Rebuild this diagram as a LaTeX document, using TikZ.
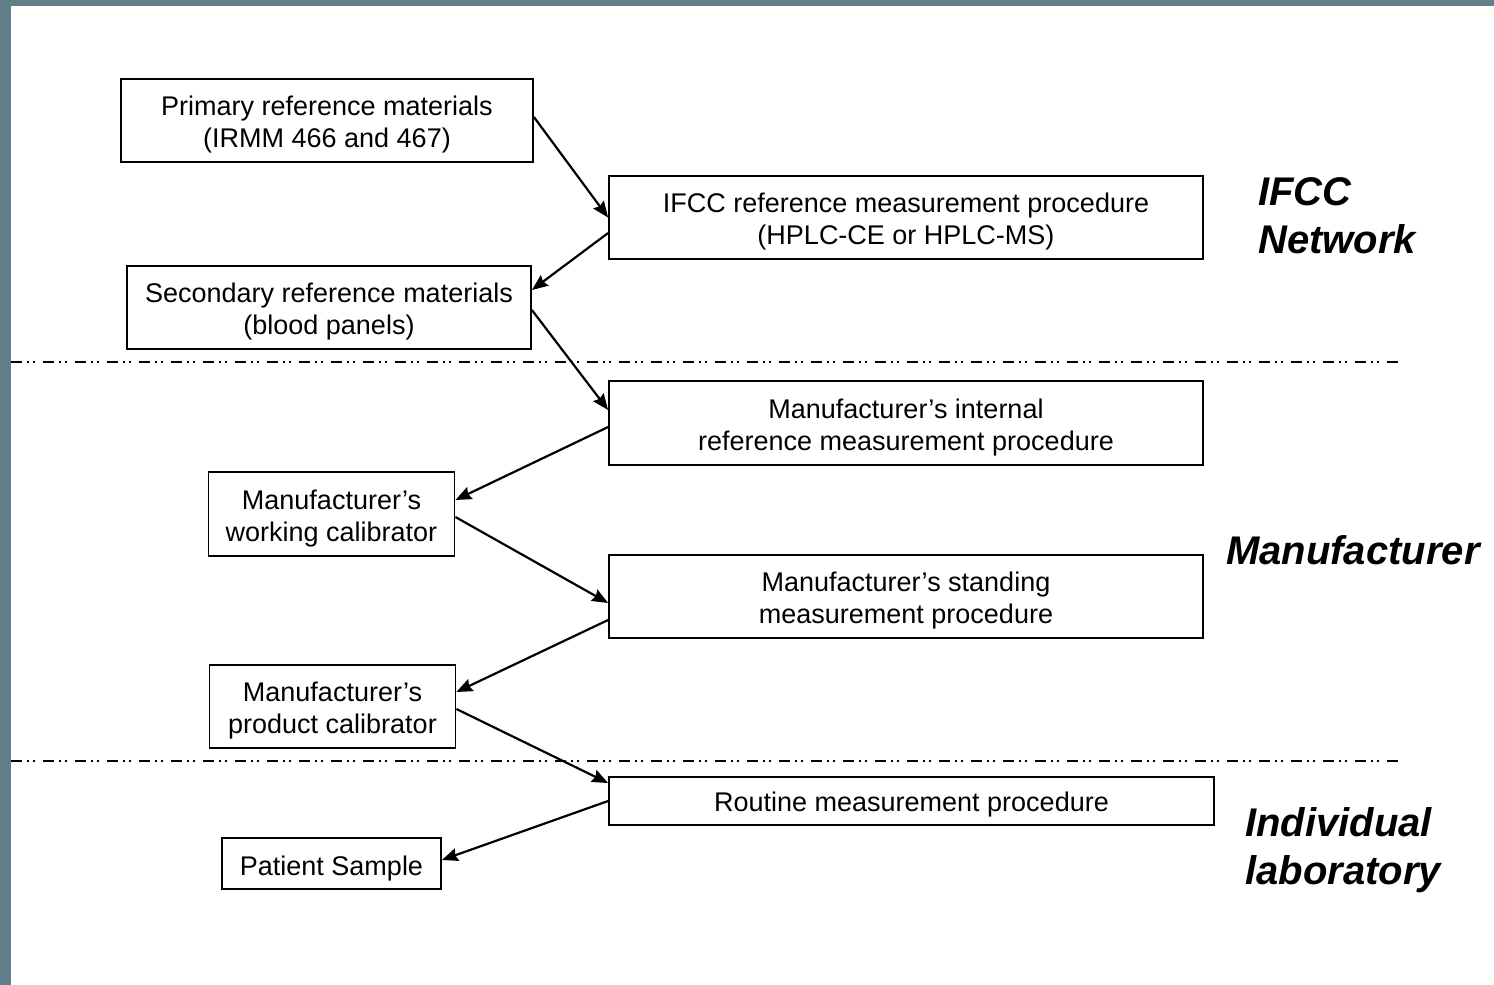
\documentclass[tikz,border=0pt]{standalone}
\usepackage{fontspec}
\setmainfont{Liberation Sans}
\usetikzlibrary{arrows.meta,positioning}
\definecolor{framegray}{RGB}{96,127,136}
\tikzset{
  refbox/.style={draw,line width=1.8pt,inner sep=0pt,align=center,
    text height=54pt,text depth=0pt,font=\fontsize{27}{32}\selectfont},
  onebox/.style={refbox,text height=21pt},
  widebox/.style={refbox,minimum width=594pt,minimum height=83pt},
  calbox/.style={refbox,minimum width=246pt,minimum height=83pt},
  tierlabel/.style={anchor=base west,inner sep=0pt,align=left,
    font=\fontsize{40}{48}\selectfont\bfseries\itshape},
  tierline/.style={line width=1.8pt,dash pattern=on 11pt off 5pt on 2pt off 4pt on 2pt off 8pt}
}
\begin{document}
\begin{tikzpicture}[x=1pt,y=-1pt,>={Stealth[length=16pt,width=13pt,inset=2pt]}]
        \useasboundingbox (0,0) rectangle (1494,985);
        \fill[framegray] (0,0) rectangle (11,985);
        \fill[framegray] (0,0) rectangle (1494,6);
        % The two separators mark the three levels of the traceability chain.
        \draw[tierline] (11,362) -- (1398,362);
        \draw[tierline] (11,761) -- (1398,761);
        \node[refbox,minimum width=412pt,minimum height=83pt] (prim) at (327,120.5) {Primary reference materials\\(IRMM 466 and 467)};
        \node[widebox] (ifcc) at (906,217.5) {IFCC reference measurement procedure\\(HPLC-CE or HPLC-MS)};
        \node[refbox,minimum width=404pt,minimum height=83pt] (sec) at (329,307.5) {Secondary reference materials\\(blood panels)};
        \node[widebox,minimum height=84pt] (intl) at (906,423) {Manufacturer’s internal\\reference measurement procedure};
        \node[calbox,minimum height=84pt] (work) at (331.5,514) {Manufacturer’s\\working calibrator};
        \node[widebox] (stand) at (906,596.5) {Manufacturer’s standing\\measurement procedure};
        \node[calbox] (prod) at (332.5,706.5) {Manufacturer’s\\product calibrator};
        \node[onebox,minimum width=605pt,minimum height=48pt] (rout) at (911.5,801) {Routine measurement procedure};
        \node[onebox,minimum width=219pt,minimum height=51pt,text height=23pt] (pat) at (331.5,863.5) {Patient Sample};
        \node[tierlabel] (ifcclab) at (1258,253) {IFCC\\Network};
        \node[tierlabel] (manlab) at (1226,564) {Manufacturer};
        \node[tierlabel] (lablab) at (1245,884) {Individual\\laboratory};
        \path[->,line width=2.2pt]
          ([yshift=3.5pt]prim.east) edge (ifcc.west)
          ([yshift=-15.5pt]ifcc.west) edge ([yshift=17.5pt]sec.east)
          ([yshift=-2.5pt]sec.east) edge ([yshift=13pt]intl.west)
          ([yshift=-4pt]intl.west) edge ([yshift=14pt]work.east)
          ([yshift=-3pt]work.east) edge ([yshift=-6.5pt]stand.west)
          ([yshift=-23.5pt]stand.west) edge ([yshift=14.5pt]prod.east)
          ([yshift=-2.5pt]prod.east) edge ([yshift=18pt]rout.west)
          (rout.west) edge ([yshift=3.5pt]pat.east);
      \end{tikzpicture}
\end{document}
